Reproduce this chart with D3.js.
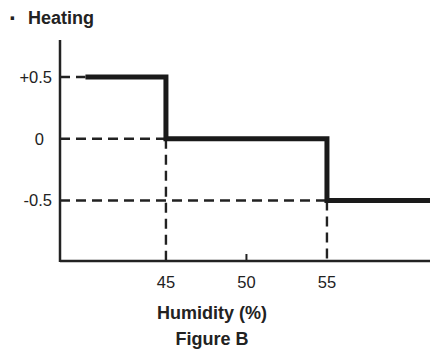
<!DOCTYPE html>
<html lang="en">
<head>
    <meta charset="UTF-8">
    <script src="https://d3js.org/d3.v7.min.js"></script>
    <title>Figure B</title>
    <style>
        body { margin: 0; background: #fff; }
        svg text { font-family: "Liberation Sans", Arial, sans-serif; fill: #222; }
        .bold { font-weight: bold; font-size: 18px; }
        .tick-label { font-size: 16.5px; }
    </style>
</head>
<body>
<div id="chart"></div>
<script>
    // step data: humidity breakpoints and heating offset on each segment
    var humidity = [40, 45, 55, 61.4],
        offset = [0.5, 0, -0.5, -0.5];

    var xTicks = [45, 50, 55],
        yTicks = [0.5, 0, -0.5],
        yTickLabels = ["+0.5", "0", "-0.5"];

    var width = 430,
        height = 351;

    var svg = d3.select("#chart")
        .append("svg")
        .attr("width", width)
        .attr("height", height);

    var x = d3.scaleLinear().domain([38.42, 61.4]).range([60, 430]);
    var y = d3.scaleLinear().domain([-0.99, 0.8]).range([261, 40]);

    var ink = "#222";

    // dashed guide lines (horizontal from axis to the step, vertical down to axis)
    yTicks.forEach(function (v, i) {
        svg.append("line")
            .attr("x1", x.range()[0]).attr("x2", x(humidity[i]))
            .attr("y1", y(v)).attr("y2", y(v))
            .attr("stroke", ink).attr("stroke-width", 2.4)
            .attr("stroke-dasharray", "10,6");
    });
    [45, 55].forEach(function (h) {
        var i = humidity.indexOf(h);
        svg.append("line")
            .attr("x1", x(h)).attr("x2", x(h))
            .attr("y1", y(offset[i])).attr("y2", y.range()[0])
            .attr("stroke", ink).attr("stroke-width", 2.4)
            .attr("stroke-dasharray", "10,6");
    });

    // axes
    svg.append("line")
        .attr("x1", x.range()[0]).attr("x2", x.range()[0])
        .attr("y1", y.range()[1]).attr("y2", y.range()[0] + 1)
        .attr("stroke", ink).attr("stroke-width", 2.5);
    svg.append("line")
        .attr("x1", x.range()[0]).attr("x2", x.range()[1])
        .attr("y1", y.range()[0]).attr("y2", y.range()[0])
        .attr("stroke", ink).attr("stroke-width", 2.5);

    // small tick at 50
    svg.append("line")
        .attr("x1", x(50)).attr("x2", x(50))
        .attr("y1", y.range()[0]).attr("y2", y.range()[0] - 7)
        .attr("stroke", ink).attr("stroke-width", 2);

    // step line
    var line = d3.line()
        .x(function (d, i) { return x(humidity[i]); })
        .y(function (d) { return y(d); })
        .curve(d3.curveStepAfter);

    svg.append("path")
        .datum(offset)
        .attr("d", line)
        .attr("fill", "none")
        .attr("stroke", "#1a1a1a")
        .attr("stroke-width", 5)
        .attr("stroke-linejoin", "miter");

    // tick labels
    svg.selectAll(".ylab")
        .data(yTicks)
        .enter()
        .append("text")
        .attr("class", "tick-label")
        .attr("x", function (d) { return d === 0 ? 44 : 52; })
        .attr("y", function (d) { return y(d); })
        .attr("dy", "0.35em")
        .attr("text-anchor", "end")
        .text(function (d, i) { return yTickLabels[i]; });

    svg.selectAll(".xlab")
        .data(xTicks)
        .enter()
        .append("text")
        .attr("class", "tick-label")
        .attr("x", function (d) { return x(d); })
        .attr("y", 288)
        .attr("text-anchor", "middle")
        .text(function (d) { return d; });

    // titles
    svg.append("text").attr("class", "bold")
        .style("font-size", "24px")
        .attr("x", 13).attr("y", 26).attr("text-anchor", "middle").text("·");
    svg.append("text").attr("class", "bold")
        .attr("x", 28).attr("y", 24).text("Heating");

    svg.append("text").attr("class", "bold")
        .attr("x", 212).attr("y", 319).attr("text-anchor", "middle")
        .text("Humidity (%)");
    svg.append("text").attr("class", "bold")
        .attr("x", 212).attr("y", 345).attr("text-anchor", "middle")
        .text("Figure B");
</script>
</body>
</html>
